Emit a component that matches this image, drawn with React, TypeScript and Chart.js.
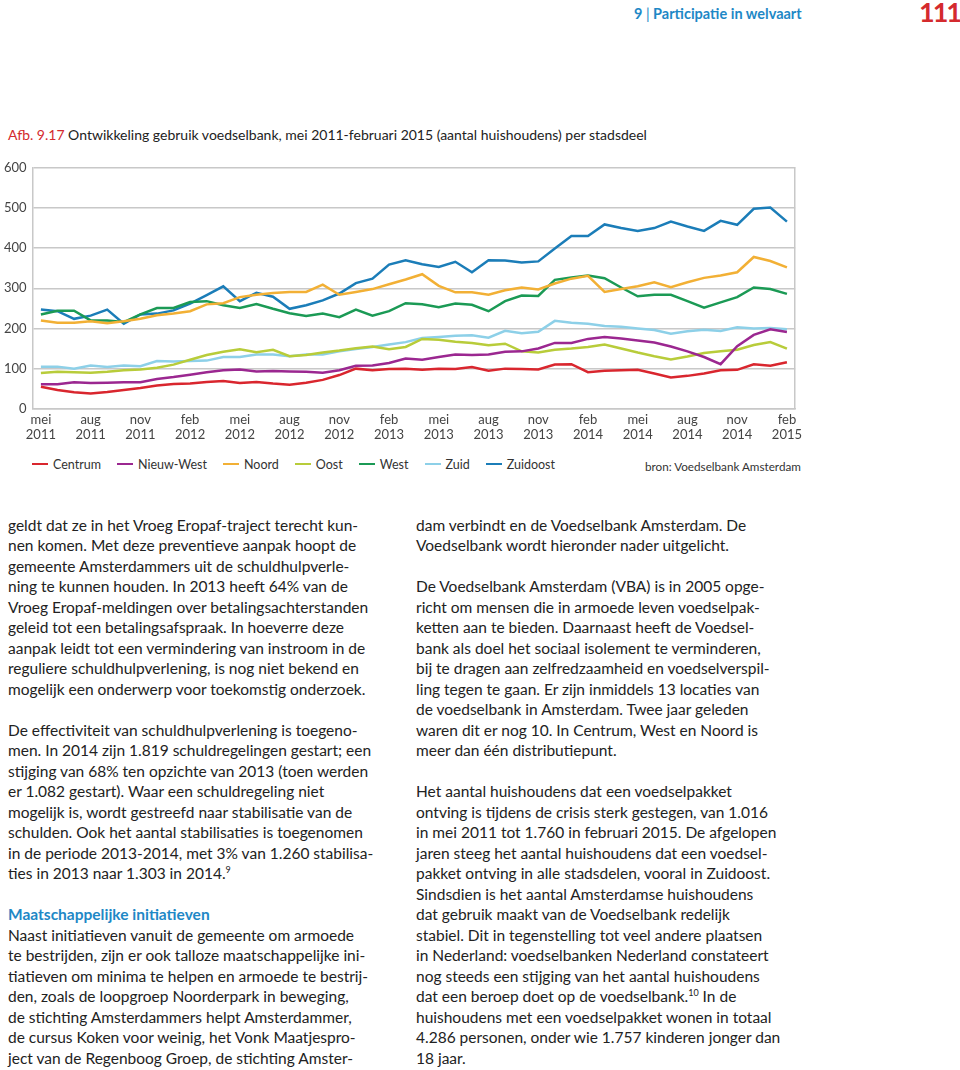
import React, { useEffect, useRef } from "react";
import { Chart, registerables } from "chart.js";

Chart.register(...registerables);

const months = [
  "mei 2011", "jun 2011", "jul 2011", "aug 2011", "sep 2011", "okt 2011", "nov 2011", "dec 2011",
  "jan 2012", "feb 2012", "mrt 2012", "apr 2012", "mei 2012", "jun 2012", "jul 2012", "aug 2012",
  "sep 2012", "okt 2012", "nov 2012", "dec 2012", "jan 2013", "feb 2013", "mrt 2013", "apr 2013",
  "mei 2013", "jun 2013", "jul 2013", "aug 2013", "sep 2013", "okt 2013", "nov 2013", "dec 2013",
  "jan 2014", "feb 2014", "mrt 2014", "apr 2014", "mei 2014", "jun 2014", "jul 2014", "aug 2014",
  "sep 2014", "okt 2014", "nov 2014", "dec 2014", "jan 2015", "feb 2015",
];

const centrum = [55, 47, 41, 38, 42, 47, 52, 58, 62, 63, 67, 69, 64, 67, 63, 60, 65, 72, 84, 100, 96, 99, 100, 97, 100, 99, 104, 95, 100, 99, 98, 110, 111, 91, 95, 96, 97, 88, 78, 82, 88, 96, 97, 111, 107, 116];
const nieuwWest = [61, 61, 66, 64, 65, 66, 66, 74, 79, 85, 91, 96, 98, 93, 94, 93, 92, 90, 96, 107, 108, 114, 125, 122, 129, 135, 134, 135, 142, 143, 150, 164, 164, 174, 179, 175, 170, 165, 155, 143, 129, 111, 156, 184, 198, 191];
const noord = [220, 214, 214, 218, 213, 218, 224, 233, 237, 243, 260, 263, 278, 284, 288, 291, 291, 309, 284, 291, 298, 310, 322, 335, 306, 290, 290, 284, 295, 302, 297, 312, 324, 331, 291, 298, 305, 315, 303, 315, 326, 332, 340, 378, 368, 352];
const oost = [89, 92, 91, 90, 92, 96, 98, 102, 110, 122, 134, 142, 148, 141, 147, 131, 134, 140, 145, 151, 155, 148, 154, 174, 172, 167, 164, 158, 162, 143, 140, 147, 150, 154, 160, 150, 140, 131, 123, 130, 139, 143, 147, 159, 166, 150];
const west = [235, 244, 244, 220, 220, 216, 235, 251, 251, 266, 268, 258, 251, 261, 249, 238, 231, 237, 228, 247, 232, 243, 263, 260, 253, 262, 259, 243, 268, 282, 281, 321, 327, 332, 325, 302, 280, 284, 284, 268, 252, 265, 278, 302, 298, 286];
const zuid = [105, 105, 100, 108, 104, 108, 106, 119, 118, 119, 120, 129, 129, 135, 135, 131, 135, 135, 143, 149, 154, 160, 166, 176, 179, 182, 183, 177, 194, 188, 192, 219, 214, 212, 206, 204, 200, 196, 187, 193, 197, 194, 203, 200, 201, 198];
const zuidoost = [247, 243, 224, 232, 247, 212, 235, 237, 245, 262, 283, 305, 268, 289, 279, 249, 258, 270, 287, 313, 324, 359, 370, 360, 353, 366, 340, 370, 369, 364, 367, 399, 430, 430, 459, 450, 443, 450, 466, 454, 443, 468, 458, 498, 501, 466];

const seriesNames = ["Centrum", "Nieuw-West", "Noord", "Oost", "West", "Zuid", "Zuidoost"];
const seriesColors = ["#d9262e", "#9b2790", "#f2b035", "#b8cc3a", "#1b9a55", "#8dd0e8", "#1b7db8"];
const seriesValues = [centrum, nieuwWest, noord, oost, west, zuid, zuidoost];

const yTicks = [0, 100, 200, 300, 400, 500, 600];

const leftLines = [
  "geldt dat ze in het Vroeg Eropaf-traject terecht kun-",
  "nen komen. Met deze preventieve aanpak hoopt de",
  "gemeente Amsterdammers uit de schuldhulpverle-",
  "ning te kunnen houden. In 2013 heeft 64% van de",
  "Vroeg Eropaf-meldingen over betalingsachterstanden",
  "geleid tot een betalingsafspraak. In hoeverre deze",
  "aanpak leidt tot een vermindering van instroom in de",
  "reguliere schuldhulpverlening, is nog niet bekend en",
  "mogelijk een onderwerp voor toekomstig onderzoek.",
  "",
  "De effectiviteit van schuldhulpverlening is toegeno-",
  "men. In 2014 zijn 1.819 schuldregelingen gestart; een",
  "stijging van 68% ten opzichte van 2013 (toen werden",
  "er 1.082 gestart). Waar een schuldregeling niet",
  "mogelijk is, wordt gestreefd naar stabilisatie van de",
  "schulden. Ook het aantal stabilisaties is toegenomen",
  "in de periode 2013-2014, met 3% van 1.260 stabilisa-",
  "ties in 2013 naar 1.303 in 2014.{9}",
  "",
  "#Maatschappelijke initiatieven",
  "Naast initiatieven vanuit de gemeente om armoede",
  "te bestrijden, zijn er ook talloze maatschappelijke ini-",
  "tiatieven om minima te helpen en armoede te bestrij-",
  "den, zoals de loopgroep Noorderpark in beweging,",
  "de stichting Amsterdammers helpt Amsterdammer,",
  "de cursus Koken voor weinig, het Vonk Maatjespro-",
  "ject van de Regenboog Groep, de stichting Amster-",
];

const rightLines = [
  "dam verbindt en de Voedselbank Amsterdam. De",
  "Voedselbank wordt hieronder nader uitgelicht.",
  "",
  "De Voedselbank Amsterdam (VBA) is in 2005 opge-",
  "richt om mensen die in armoede leven voedselpak-",
  "ketten aan te bieden. Daarnaast heeft de Voedsel-",
  "bank als doel het sociaal isolement te verminderen,",
  "bij te dragen aan zelfredzaamheid en voedselverspil-",
  "ling tegen te gaan. Er zijn inmiddels 13 locaties van",
  "de voedselbank in Amsterdam. Twee jaar geleden",
  "waren dit er nog 10. In Centrum, West en Noord is",
  "meer dan één distributiepunt.",
  "",
  "Het aantal huishoudens dat een voedselpakket",
  "ontving is tijdens de crisis sterk gestegen, van 1.016",
  "in mei 2011 tot 1.760 in februari 2015. De afgelopen",
  "jaren steeg het aantal huishoudens dat een voedsel-",
  "pakket ontving in alle stadsdelen, vooral in Zuidoost.",
  "Sindsdien is het aantal Amsterdamse huishoudens",
  "dat gebruik maakt van de Voedselbank redelijk",
  "stabiel. Dit in tegenstelling tot veel andere plaatsen",
  "in Nederland: voedselbanken Nederland constateert",
  "nog steeds een stijging van het aantal huishoudens",
  "dat een beroep doet op de voedselbank.{10} In de",
  "huishoudens met een voedselpakket wonen in totaal",
  "4.286 personen, onder wie 1.757 kinderen jonger dan",
  "18 jaar.",
];

const FONT = "Lato, 'Open Sans', sans-serif";
const BLUE = "#1e88c6";
const RED = "#d42a2e";

function renderLine(text: string, i: number) {
  if (text.startsWith("#")) {
    return (
      <div key={i} style={{ height: 20.5, lineHeight: "20.5px", color: BLUE, fontWeight: 700 }}>
        {text.slice(1)}
      </div>
    );
  }
  const parts = text.split(/\{(\d+)\}/);
  return (
    <div key={i} style={{ height: 20.5, lineHeight: "20.5px", whiteSpace: "nowrap" }}>
      {parts.map((p, j) =>
        j % 2 === 1 ? (
          <sup key={j} style={{ fontSize: 9, lineHeight: 0 }}>{p}</sup>
        ) : (
          <span key={j}>{p}</span>
        )
      )}
    </div>
  );
}

function LineChart() {
  const ref = useRef<HTMLCanvasElement | null>(null);
  useEffect(() => {
    if (!ref.current) return;
    const chart = new Chart(ref.current, {
      type: "line",
      data: {
        labels: months,
        datasets: seriesNames.map((name, k) => ({
          label: name,
          data: seriesValues[k],
          borderColor: seriesColors[k],
          backgroundColor: seriesColors[k],
          borderWidth: 2.5,
          pointRadius: 0,
          tension: 0,
          fill: false,
        })),
      },
      options: {
        animation: false,
        responsive: true,
        maintainAspectRatio: false,
        layout: { padding: { left: 0, right: 0, top: 0, bottom: 0 } },
        plugins: { legend: { display: false }, tooltip: { enabled: false } },
        scales: {
          x: {
            offset: true,
            grid: { display: false, drawTicks: false },
            border: { display: true, color: "#c8c8c8", width: 1.5 },
            ticks: {
              autoSkip: false,
              maxRotation: 0,
              minRotation: 0,
              padding: 3,
              color: "#444",
              font: { family: FONT, size: 13 },
              callback: (_v: any, i: number) => (i % 3 === 0 ? months[i].split(" ") : ""),
            },
          },
          y: {
            min: 0,
            max: 600,
            afterBuildTicks: (axis: any) => {
              axis.ticks = yTicks.map((v) => ({ value: v }));
            },
            grid: { color: "#c8c8c8", lineWidth: 1.5, drawTicks: false },
            border: { display: true, color: "#c8c8c8", width: 1.5 },
            ticks: { padding: 6, color: "#444", font: { family: FONT, size: 13 } },
          },
          y2: {
            position: "right",
            min: 0,
            max: 600,
            grid: { display: false, drawTicks: false },
            border: { display: true, color: "#c8c8c8", width: 1.5 },
            ticks: { display: false },
          },
        },
      },
    });
    return () => chart.destroy();
  }, []);
  return (
    <div style={{ position: "absolute", left: -2, top: 154, width: 807, height: 292 }}>
      <canvas ref={ref} />
    </div>
  );
}

export default function App() {
  return (
    <div style={{ fontFamily: FONT, color: "#222" }}>
      <div style={{ position: "absolute", left: 634, top: 4, fontSize: 14.5, fontWeight: 700, color: BLUE, whiteSpace: "nowrap", lineHeight: "20px" }}>
        9 <span style={{ fontWeight: 400 }}>|</span> Participatie in welvaart
      </div>
      <div style={{ position: "absolute", left: 919, top: -4, fontSize: 27, fontWeight: 700, color: RED, lineHeight: "32px", letterSpacing: -2 }}>
        111
      </div>
      <div style={{ position: "absolute", left: 8, top: 125, fontSize: 14, whiteSpace: "nowrap", lineHeight: "20px" }}>
        <span style={{ color: RED }}>Afb. 9.17</span> Ontwikkeling gebruik voedselbank, mei 2011-februari 2015 (aantal huishoudens) per stadsdeel
      </div>
      <LineChart />
      <div style={{ position: "absolute", left: 32, top: 454, height: 20, display: "flex", alignItems: "center", fontSize: 12.5, color: "#333" }}>
        {seriesNames.map((n, k) => (
          <div key={n} style={{ display: "flex", alignItems: "center", marginRight: 16 }}>
            <div style={{ width: 16, height: 2.5, background: seriesColors[k], marginRight: 5 }} />
            <span>{n}</span>
          </div>
        ))}
      </div>
      <div style={{ position: "absolute", left: 645, top: 456, fontSize: 11.7, color: "#333", whiteSpace: "nowrap", lineHeight: "20px" }}>
        bron: Voedselbank Amsterdam
      </div>
      <div style={{ position: "absolute", left: 8, top: 514.75, fontSize: 15.5 }}>
        {leftLines.map(renderLine)}
      </div>
      <div style={{ position: "absolute", left: 416, top: 514.75, fontSize: 15.5 }}>
        {rightLines.map(renderLine)}
      </div>
    </div>
  );
}
